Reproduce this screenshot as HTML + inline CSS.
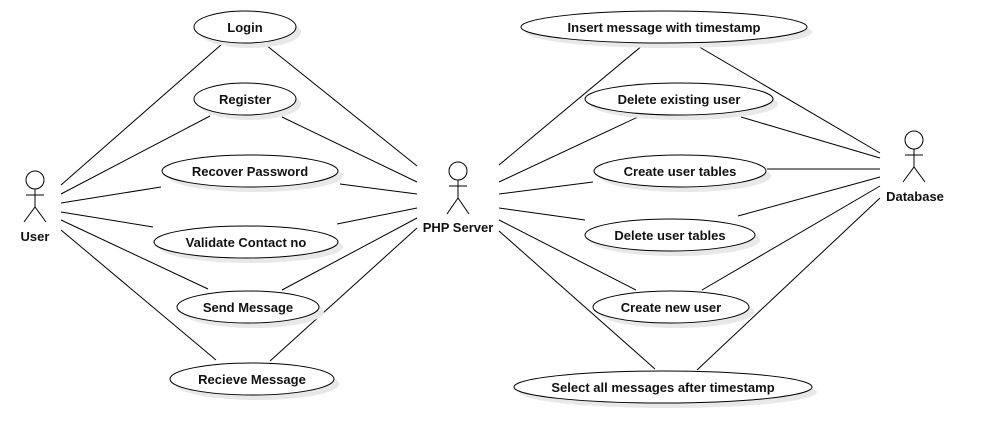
<!DOCTYPE html>
<html><head><style>body{margin:0;background:#fff}svg{display:block}text{font-family:"Liberation Sans",sans-serif;font-weight:bold;font-size:13px;fill:#111;text-anchor:middle}</style></head><body>
<svg width="988" height="444" viewBox="0 0 988 444" xmlns="http://www.w3.org/2000/svg">
<g stroke="#000" stroke-width="1" fill="none">
<line x1="61" y1="185" x2="222" y2="44"/><line x1="61" y1="194" x2="210" y2="116"/><line x1="61" y1="203" x2="161" y2="187"/><line x1="61" y1="212" x2="153" y2="227"/><line x1="61" y1="220" x2="208" y2="289"/><line x1="61" y1="230" x2="216" y2="360"/>
<line x1="266" y1="45" x2="417" y2="166"/><line x1="282" y1="117" x2="417" y2="182"/><line x1="340" y1="184" x2="417" y2="194"/><line x1="337" y1="224" x2="417" y2="208"/><line x1="282" y1="290" x2="417" y2="218"/><line x1="270" y1="361" x2="417" y2="228"/>
<line x1="643" y1="45" x2="499" y2="165"/><line x1="640" y1="116" x2="499" y2="182"/><line x1="593" y1="182" x2="499" y2="194"/><line x1="585" y1="220" x2="499" y2="208"/><line x1="636" y1="290" x2="499" y2="220"/><line x1="655" y1="369" x2="499" y2="231"/>
<line x1="696" y1="45" x2="880" y2="153"/><line x1="741" y1="117" x2="880" y2="158"/><line x1="767" y1="169" x2="880" y2="169"/><line x1="738" y1="216" x2="880" y2="177"/><line x1="702" y1="290" x2="880" y2="186"/><line x1="697" y1="370" x2="880" y2="198"/>
</g>
<g fill="#e8e8e8">
<ellipse cx="250" cy="32" rx="51" ry="16"/><ellipse cx="250" cy="104" rx="51" ry="16"/><ellipse cx="255" cy="176" rx="88" ry="16"/><ellipse cx="251" cy="247" rx="92" ry="16"/><ellipse cx="253" cy="312" rx="71" ry="16"/><ellipse cx="257" cy="384" rx="82" ry="16"/>
<ellipse cx="669" cy="32" rx="143" ry="16"/><ellipse cx="684" cy="104" rx="94" ry="16"/><ellipse cx="685" cy="176" rx="86" ry="16"/><ellipse cx="675" cy="240" rx="85" ry="16"/><ellipse cx="676" cy="312" rx="78" ry="16"/><ellipse cx="668" cy="392" rx="149" ry="16"/>
</g>
<g fill="#fff" stroke="#000">
<ellipse cx="245" cy="27" rx="51" ry="16"/><ellipse cx="245" cy="99" rx="51" ry="16"/><ellipse cx="250" cy="171" rx="88" ry="16"/><ellipse cx="246" cy="242" rx="92" ry="16"/><ellipse cx="248" cy="307" rx="71" ry="16"/><ellipse cx="252" cy="379" rx="82" ry="16"/>
<ellipse cx="664" cy="27" rx="143" ry="16"/><ellipse cx="679" cy="99" rx="94" ry="16"/><ellipse cx="680" cy="171" rx="86" ry="16"/><ellipse cx="670" cy="235" rx="85" ry="16"/><ellipse cx="671" cy="307" rx="78" ry="16"/><ellipse cx="663" cy="387" rx="149" ry="16"/>
</g>
<text x="245" y="32">Login</text><text x="245" y="104">Register</text><text x="250" y="176">Recover Password</text><text x="246" y="247">Validate Contact no</text><text x="248" y="312">Send Message</text><text x="252" y="384">Recieve Message</text>
<text x="664" y="32">Insert message with timestamp</text><text x="679" y="104">Delete existing user</text><text x="680" y="176">Create user tables</text><text x="670" y="240">Delete user tables</text><text x="671" y="312">Create new user</text><text x="663" y="392">Select all messages after timestamp</text>
<g stroke="#000" fill="none">
<circle cx="35" cy="180" r="9"/><path d="M35 189V207M26 195H44M24 222L35 207L46 222"/>
<circle cx="458" cy="171" r="9"/><path d="M458 180V198M449 186H467M447 214L458 198L469 214"/>
<circle cx="914" cy="140" r="9"/><path d="M914 149V167M905 155H923M903 182L914 167L925 182"/>
</g>
<text x="35" y="241">User</text><text x="458" y="232">PHP Server</text><text x="915" y="201">Database</text>
</svg>
</body></html>
